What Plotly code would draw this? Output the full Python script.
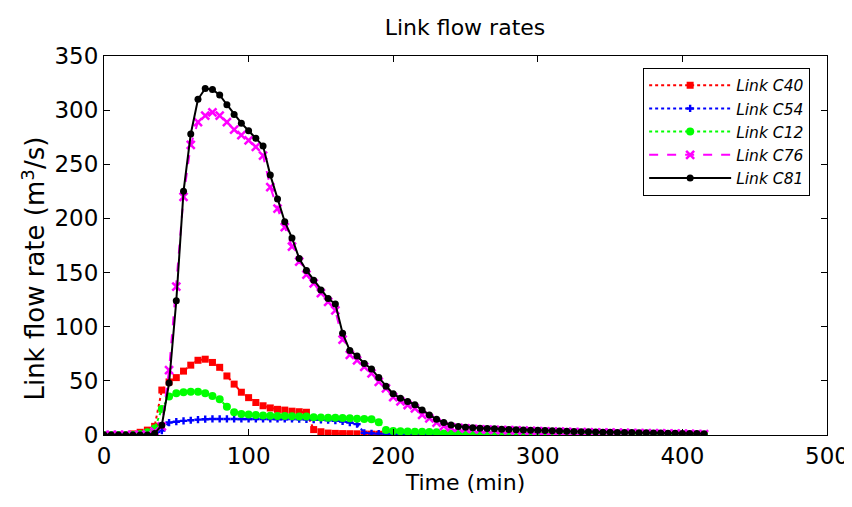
import plotly.graph_objects as go

time_min = list(range(0, 420, 5))

c81 = [0, 0, 0, 0, 0, 0, 0, 1.5, 9, 48, 124, 225, 278, 310, 320, 319, 314, 305, 296, 288,
       281, 274, 267, 240, 218, 197, 182, 163, 152, 143, 134, 126, 121, 94, 78, 73, 66, 61, 53, 45,
       38, 34, 31, 28, 23, 18.5, 14.5, 11.5, 9.2, 7.8, 7.2, 6.7, 6.3, 6.0, 5.7, 5.4, 5.1, 4.9, 4.7, 4.5,
       4.3, 4.1, 3.9, 3.7, 3.5, 3.3, 3.1, 2.9, 2.8, 2.6, 2.5, 2.4, 2.3, 2.2, 2.1, 2.0, 1.9, 1.8, 1.7, 1.6,
       1.5, 1.4, 1.3, 1.2]

c76 = [0, 0, 0, 0, 0, 0, 0, 3, 8, 60, 137, 220, 268, 289, 295, 298, 295, 289, 282, 277,
       272, 266, 258, 229, 209, 192, 174, 160, 148, 140, 131, 123, 115, 88, 74, 69, 63, 57, 49, 43,
       35, 31, 27.7, 24.6, 18.5, 15.4, 11.4, 8.3, 7.0, 6.5, 6.0, 5.6, 5.3, 5.0, 4.8, 4.6, 4.4, 4.2, 4.0, 3.8,
       3.6, 3.4, 3.2, 3.0, 2.9, 2.7, 2.6, 2.4, 2.3, 2.2, 2.1, 2.0, 1.9, 1.8, 1.7, 1.6, 1.5, 1.4, 1.3, 1.2,
       1.1, 1.0, 0.9, 0.8]

c40 = [0, 0, 0, 0.3, 1, 2.5, 4.5, 8, 41.5, 49, 53, 59, 64.5, 69, 70, 67, 62.5, 54.5, 47, 39.5,
       34.5, 30, 27, 25, 23.7, 23, 22, 21.5, 21, 5, 3, 1.8, 1.5, 1.3, 1.2, 1.1, 0.9, 0.8, 0.7, 0.6,
       0.5, 0.5, 0.4, 0.4, 0.3, 0.3, 0.3, 0.2, 0.2, 0.2, 0.1, 0.1, 0.1, 0.1, 0.1, 0.1, 0.1, 0.1, 0.1, 0.1,
       0, 0, 0, 0, 0, 0, 0, 0, 0, 0, 0, 0, 0, 0, 0, 0, 0, 0, 0, 0,
       0, 0, 0, 0]

c54 = [0, 0, 0, 0, 0, 0, 0, 0.5, 4, 11.5, 12.3, 13, 13.6, 14.2, 14.6, 14.8, 14.8, 14.8, 14.8, 14.8,
       14.8, 14.8, 14.8, 14.8, 14.8, 14.8, 14.8, 14.6, 14.5, 14.2, 14, 13.6, 13.2, 12.5, 11.5, 10, 2, 1.5, 1.3, 1.1,
       1.0, 0.9, 0.8, 0.7, 0.6, 0.5, 0.5, 0.4, 0.4, 0.3, 0.3, 0.3, 0.2, 0.2, 0.2, 0.2, 0.1, 0.1, 0.1, 0.1,
       0.1, 0.1, 0, 0, 0, 0, 0, 0, 0, 0, 0, 0, 0, 0, 0, 0, 0, 0, 0, 0,
       0, 0, 0, 0]

c12 = [0, 0, 0, 0, 0, 1, 2.5, 6, 24, 35.5, 38.5, 39.5, 40, 40, 38.5, 36, 33, 26, 21, 19.5,
       19, 18.5, 18, 17.8, 17.6, 17.5, 17.3, 17, 17, 16.5, 16.2, 16, 16, 15.7, 15.4, 15, 14.8, 14.5, 11.7, 4.6,
       3.7, 3.5, 3.3, 3.1, 3.0, 2.8, 2.5, 1.5, 1.3, 1.2, 1.1, 1.0, 1.0, 0.9, 0.9, 0.8, 0.8, 0.7, 0.7, 0.6,
       0.6, 0.5, 0.5, 0.5, 0.4, 0.4, 0.4, 0.3, 0.3, 0.3, 0.3, 0.2, 0.2, 0.2, 0.2, 0.2, 0.1, 0.1, 0.1, 0.1,
       0.1, 0.1, 0.1, 0.1]

x_ticks = [0, 100, 200, 300, 400, 500]
y_ticks = [0, 50, 100, 150, 200, 250, 300, 350]

FONT = "DejaVu Sans, Liberation Sans, sans-serif"

fig = go.Figure()
fig.add_trace(go.Scatter(
    x=time_min, y=c40, name="Link C40", mode="lines+markers",
    line=dict(color="#ff0000", width=2, dash="dot"),
    marker=dict(symbol="square", size=7, color="#ff0000"),
))
fig.add_trace(go.Scatter(
    x=time_min, y=c54, name="Link C54", mode="lines+markers",
    line=dict(color="#0000ff", width=2, dash="dot"),
    marker=dict(symbol="cross", size=6, color="#0000ff"),
))
fig.add_trace(go.Scatter(
    x=time_min, y=c12, name="Link C12", mode="lines+markers",
    line=dict(color="#00ff00", width=2, dash="dot"),
    marker=dict(symbol="circle", size=8, color="#00ff00"),
))
fig.add_trace(go.Scatter(
    x=time_min, y=c76, name="Link C76", mode="lines+markers",
    line=dict(color="#ff00ff", width=2, dash="dash"),
    marker=dict(symbol="x-thin", size=8, color="#ff00ff",
                line=dict(color="#ff00ff", width=2.5)),
))
fig.add_trace(go.Scatter(
    x=time_min, y=c81, name="Link C81", mode="lines+markers",
    line=dict(color="#000000", width=2),
    marker=dict(symbol="circle", size=7, color="#000000"),
))

axis_common = dict(
    showline=True, linecolor="black", linewidth=1, mirror="ticks",
    ticks="inside", ticklen=6, tickcolor="black", showgrid=False, zeroline=False,
    automargin=False,
    tickfont=dict(family=FONT, size=23, color="black"),
)

fig.update_layout(
    width=852, height=507,
    paper_bgcolor="white", plot_bgcolor="white",
    margin=dict(l=96, r=33, t=48, b=80),
    title=dict(text="Link flow rates", x=0.5364, xanchor="center", y=0.9625, yanchor="middle",
               font=dict(family=FONT, size=22, color="black")),
    xaxis=dict(range=[0, 500], tickvals=x_ticks,
               title=dict(text="Time (min)", font=dict(family=FONT, size=22, color="black"), standoff=7),
               **axis_common),
    yaxis=dict(range=[0, 350], tickvals=y_ticks, **axis_common),
    legend=dict(x=0.7457, y=0.969, xanchor="left", yanchor="top",
                bgcolor="white", bordercolor="black", borderwidth=1,
                font=dict(family=FONT, size=15.5, color="black", style="italic"),
                itemwidth=82),
    showlegend=True,
    annotations=[dict(
        text="Link flow rate (m<sup>3</sup>/s)", textangle=-90,
        xref="paper", yref="paper", x=-0.0974, y=0.438,
        xanchor="center", yanchor="middle", showarrow=False,
        font=dict(family=FONT, size=26, color="black"),
    )],
)

fig.write_html("out.html")
